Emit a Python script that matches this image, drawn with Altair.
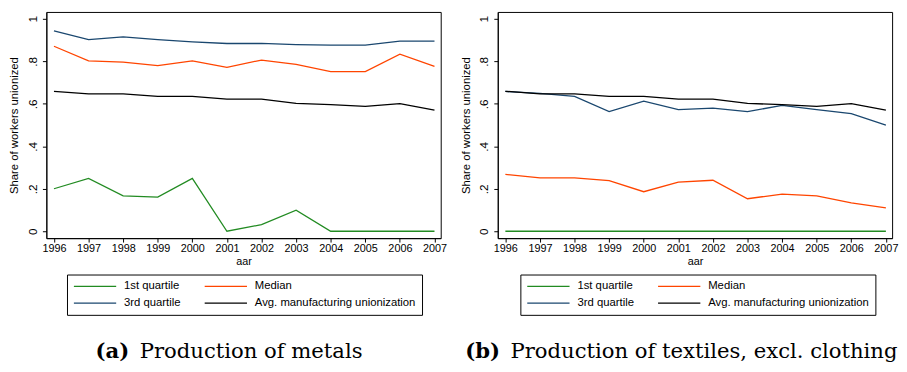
import altair as alt
import pandas as pd

years = [1996, 1997, 1998, 1999, 2000, 2001, 2002, 2003, 2004, 2005, 2006, 2007]
# legend is filled column by column: col 1 = 1st / 3rd quartile, col 2 = Median / Avg.
series_names = ["1st quartile", "3rd quartile", "Median", "Avg. manufacturing unionization"]
series_colors = ["#228b22", "#1a476f", "#ff4500", "#000000"]
y_ticks = [0, 0.2, 0.4, 0.6, 0.8, 1]

avg_manuf = [0.659, 0.647, 0.647, 0.635, 0.635, 0.622, 0.622, 0.602, 0.596, 0.588, 0.601, 0.570]

metals_q1 = [0.200, 0.249, 0.167, 0.161, 0.249, 0.000, 0.031, 0.099, 0.000, 0.000, 0.000, 0.000]
metals_med = [0.871, 0.802, 0.796, 0.780, 0.802, 0.772, 0.806, 0.786, 0.752, 0.752, 0.834, 0.776]
metals_q3 = [0.943, 0.902, 0.915, 0.902, 0.892, 0.884, 0.884, 0.879, 0.876, 0.876, 0.895, 0.895]

textiles_q1 = [0.000, 0.000, 0.000, 0.000, 0.000, 0.000, 0.000, 0.000, 0.000, 0.000, 0.000, 0.000]
textiles_med = [0.268, 0.251, 0.251, 0.238, 0.186, 0.231, 0.240, 0.153, 0.175, 0.167, 0.133, 0.110]
textiles_q3 = [0.658, 0.649, 0.635, 0.563, 0.613, 0.573, 0.580, 0.563, 0.593, 0.573, 0.554, 0.500]

SANS = "Liberation Sans"
SERIF = "DejaVu Serif"


def panel(q1, med, q3, tag, caption, legend_x, tag_x, cap_x):
    rows = []
    for name, vals in zip(
        ["1st quartile", "Median", "3rd quartile", "Avg. manufacturing unionization"],
        [q1, med, q3, avg_manuf],
    ):
        for yr, v in zip(years, vals):
            rows.append({"aar": yr, "value": v, "series": name})
    df = pd.DataFrame(rows)

    lines = alt.Chart(df).mark_line(strokeWidth=1.3).encode(
        x=alt.X(
            "aar:Q",
            scale=alt.Scale(domain=[1995.78, 2007.18], nice=False, zero=False),
            axis=alt.Axis(
                values=years, format="d", title="aar", grid=False,
                tickSize=4, labelPadding=1, titlePadding=2,
                labelFont=SANS, labelFontSize=11, titleFont=SANS,
                titleFontSize=11, titleFontWeight="normal",
                labelColor="black", titleColor="black",
                tickColor="black", domainColor="black", labelFlush=False,
            ),
        ),
        y=alt.Y(
            "value:Q",
            scale=alt.Scale(domain=[-0.0325, 1.0325], nice=False, zero=False),
            axis=alt.Axis(
                values=y_ticks,
                labelExpr="datum.value == 0 ? '0' : (datum.value == 1 ? '1' : replace(format(datum.value, '.1f'), '0.', '.'))",
                title="Share of workers unionized", grid=False,
                labelAngle=270, labelAlign="center", labelBaseline="bottom",
                tickSize=4, labelPadding=3, titlePadding=7,
                labelFont=SANS, labelFontSize=12, titleFont=SANS,
                titleFontSize=11.5, titleFontWeight="normal",
                labelColor="black", titleColor="black",
                tickColor="black", domainColor="black",
            ),
        ),
        color=alt.Color(
            "series:N",
            scale=alt.Scale(domain=series_names, range=series_colors),
            legend=alt.Legend(
                title=None, orient="none", legendX=legend_x, legendY=267,
                columns=2, columnPadding=23, rowPadding=5, clipHeight=12,
                symbolType="stroke", symbolSize=1849, symbolStrokeWidth=1.3,
                labelFont=SANS, labelFontSize=11.5, labelColor="black",
                labelOffset=7, labelLimit=300, padding=6,
                strokeColor="black", fillColor="white",
            ),
        ),
    )

    cap_df = pd.DataFrame({"tag": [tag], "caption": [caption]})
    tag_text = alt.Chart(cap_df).mark_text(
        align="left", baseline="alphabetic", font=SERIF, fontSize=21.5,
        fontWeight="bold", color="black",
    ).encode(x=alt.value(tag_x), y=alt.value(352), text="tag:N")
    cap_text = alt.Chart(cap_df).mark_text(
        align="left", baseline="alphabetic", font=SERIF, fontSize=21.5,
        fontWeight="normal", color="black",
    ).encode(x=alt.value(cap_x), y=alt.value(352), text="caption:N")

    return alt.layer(lines, tag_text, cap_text).properties(width=401, height=230)


left = panel(metals_q1, metals_med, metals_q3, "(a)", "Production of metals", 21, 50, 95)
right = panel(textiles_q1, textiles_med, textiles_q3, "(b)", "Production of textiles, excl. clothing", 23, -33, 13)

chart = (
    alt.hconcat(left, right, spacing=58, bounds="flush")
    .resolve_scale(color="independent")
    .resolve_legend(color="independent")
    .properties(padding=0, background="white")
    .configure_view(stroke="black", strokeWidth=1)
)

chart.save("out.html", embed_options={"renderer": "svg", "actions": False})
